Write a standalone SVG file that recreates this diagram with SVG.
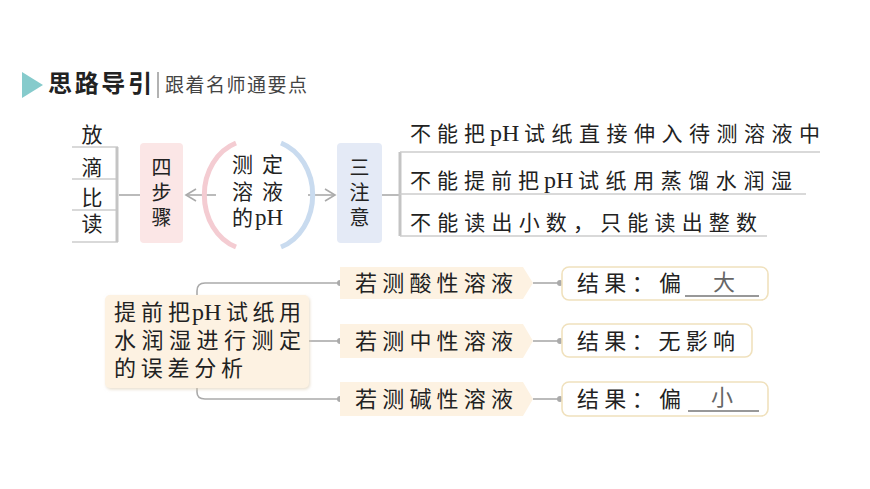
<svg xmlns="http://www.w3.org/2000/svg" width="870" height="489" viewBox="0 0 870 489">
<defs>
<style>
.t{font-family:'Liberation Serif','Noto Sans CJK SC',serif;fill:#222;}
.c20{font-size:20px;}
.c21{font-size:21px;}
.c22{font-size:22px;}
.ph{font-family:'Liberation Serif',serif;fill:#222;}
.ln{stroke:#aaa;stroke-width:1.6;fill:none;}
.ul{stroke:#ccc;stroke-width:1.3;fill:none;}
.dot{fill:#aaa;}
.cream{fill:#fdf2e2;}
.res{fill:#fff;stroke:#f0e1bd;stroke-width:1.6;}
</style>
<filter id="sh" x="-10%" y="-10%" width="120%" height="130%">
<feDropShadow dx="1" dy="1.5" stdDeviation="1.5" flood-color="#d9c9ad" flood-opacity="0.6"/>
</filter>
</defs>
<rect width="870" height="489" fill="#fff"/>

<g id="header">
<polygon points="22,72 43,85 22,98" fill="#86cbcc"/>
<text class="t" x="48" y="92" font-size="24" font-weight="bold" textLength="104">思路导引</text>
<line x1="158" y1="72" x2="158" y2="98" stroke="#999" stroke-width="1.5"/>
<text class="t" x="165" y="92" font-size="19" style="fill:#444" textLength="142">跟着名师通要点</text>
</g>

<g id="connectors">
<line class="ul" x1="72" y1="147" x2="118" y2="147"/>
<line class="ul" x1="72" y1="179" x2="118" y2="179"/>
<line class="ul" x1="72" y1="210" x2="118" y2="210"/>
<line class="ul" x1="72" y1="242" x2="118" y2="242"/>
<line x1="117" y1="147" x2="117" y2="242" stroke="#c4c4c4" stroke-width="3"/>
<line class="ln" x1="119" y1="195" x2="140" y2="195"/>
<line class="ln" x1="186" y1="195" x2="216" y2="195"/>
<polyline class="ln" points="196,189 186,195 196,201"/>
<line class="ln" x1="308" y1="195" x2="335" y2="195"/>
<polyline class="ln" points="325,189 335,195 325,201"/>
<line class="ln" x1="382" y1="195" x2="400" y2="195"/>
<line x1="400" y1="152" x2="400" y2="236" stroke="#c4c4c4" stroke-width="3"/>
<line class="ul" x1="400" y1="152" x2="820" y2="152"/>
<line class="ul" x1="400" y1="194" x2="806" y2="194"/>
<line class="ul" x1="400" y1="236" x2="767" y2="236"/>

<path class="ln" d="M197,295 V291 Q197,283 205,283 H340"/>
<line class="ln" x1="309" y1="341" x2="340" y2="341"/>
<path class="ln" d="M197,388 V392 Q197,399 205,399 H340"/>
<circle class="dot" cx="340" cy="283" r="3"/>
<circle class="dot" cx="340" cy="341" r="3"/>
<circle class="dot" cx="340" cy="399" r="3"/>
<line class="ln" x1="533" y1="283" x2="560" y2="283"/>
<line class="ln" x1="533" y1="341" x2="560" y2="341"/>
<line class="ln" x1="533" y1="399" x2="560" y2="399"/>
<circle class="dot" cx="560" cy="283" r="3"/>
<circle class="dot" cx="560" cy="341" r="3"/>
<circle class="dot" cx="560" cy="399" r="3"/>
</g>

<g id="list">
<text class="t c21" x="92" y="142" text-anchor="middle">放</text>
<text class="t c21" x="92" y="175" text-anchor="middle">滴</text>
<text class="t c21" x="92" y="205" text-anchor="middle">比</text>
<text class="t c21" x="92" y="231" text-anchor="middle">读</text>
</g>

<g id="four-steps">
<rect x="140" y="143" width="43" height="100" rx="4" fill="#fbe6e6"/>
<text class="t c20" x="161.5" y="175" text-anchor="middle">四</text>
<text class="t c20" x="161.5" y="200" text-anchor="middle">步</text>
<text class="t c20" x="161.5" y="225" text-anchor="middle">骤</text>
</g>

<g id="measure-ph">
<path d="M236,143 A47,55 0 0 0 236,247" fill="none" stroke="#f4ccd2" stroke-width="5"/>
<path d="M281,143 A47,55 0 0 1 281,247" fill="none" stroke="#c9dbef" stroke-width="5"/>
<text class="t c21" x="232" y="172">测</text>
<text class="t c21" x="262" y="172">定</text>
<text class="t c21" x="232" y="199">溶</text>
<text class="t c21" x="262" y="199">液</text>
<text class="t c21" x="232" y="225">的</text>
<text class="ph" x="255" y="225" font-size="23">pH</text>
</g>

<g id="three-notes">
<rect x="337" y="143" width="45" height="100" rx="4" fill="#e4eaf6"/>
<text class="t c20" x="359.5" y="175" text-anchor="middle">三</text>
<text class="t c20" x="359.5" y="200" text-anchor="middle">注</text>
<text class="t c20" x="359.5" y="225" text-anchor="middle">意</text>
</g>

<g id="note1">
<text class="t c21" x="410" y="141" textLength="75" lengthAdjust="spacing">不能把</text>
<text class="ph" x="490" y="141" font-size="24">pH</text>
<text class="t c21" x="524" y="141" textLength="296" lengthAdjust="spacing">试纸直接伸入待测溶液中</text>
</g>
<g id="note2">
<text class="t c21" x="410" y="188" textLength="129" lengthAdjust="spacing">不能提前把</text>
<text class="ph" x="544" y="188" font-size="24">pH</text>
<text class="t c21" x="578" y="188" textLength="214" lengthAdjust="spacing">试纸用蒸馏水润湿</text>
</g>
<g id="note3">
<text class="t c21" x="410" y="230" textLength="347" lengthAdjust="spacing">不能读出小数，只能读出整数</text>
</g>

<g id="error-analysis">
<rect class="cream" x="105" y="295" width="204" height="93" rx="5" filter="url(#sh)"/>
<text class="t c22" x="114" y="320" textLength="76" lengthAdjust="spacing">提前把</text>
<text class="ph" x="192" y="320" font-size="24">pH</text>
<text class="t c22" x="226" y="320" textLength="75" lengthAdjust="spacing">试纸用</text>
<text class="t c22" x="114" y="348" textLength="187" lengthAdjust="spacing">水润湿进行测定</text>
<text class="t c22" x="114" y="376" textLength="129" lengthAdjust="spacing">的误差分析</text>
</g>

<g id="acid">
<polygon class="cream" points="340,267 523,267 533,283 523,299 340,299"/>
<text class="t c22" x="355" y="291" textLength="158" lengthAdjust="spacing">若测酸性溶液</text>
</g>
<g id="neutral">
<polygon class="cream" points="340,324 523,324 533,341 523,358 340,358"/>
<text class="t c22" x="355" y="349" textLength="158" lengthAdjust="spacing">若测中性溶液</text>
</g>
<g id="base">
<polygon class="cream" points="340,382 523,382 533,399 523,416 340,416"/>
<text class="t c22" x="355" y="407" textLength="158" lengthAdjust="spacing">若测碱性溶液</text>
</g>

<g id="result-acid">
<rect class="res" x="562" y="267" width="206" height="33" rx="7"/>
<text class="t c22" x="577" y="291" textLength="104" lengthAdjust="spacing">结果：偏</text>
<line x1="685" y1="296" x2="759" y2="296" stroke="#333" stroke-width="1.2"/>
<text class="t c22" x="724" y="290" text-anchor="middle" style="fill:#666">大</text>
</g>
<g id="result-neutral">
<rect class="res" x="562" y="324" width="190" height="33" rx="7"/>
<text class="t c22" x="577" y="349" textLength="158" lengthAdjust="spacing">结果：无影响</text>
</g>
<g id="result-base">
<rect class="res" x="562" y="382" width="206" height="34" rx="7"/>
<text class="t c22" x="577" y="407" textLength="104" lengthAdjust="spacing">结果：偏</text>
<line x1="688" y1="411" x2="759" y2="411" stroke="#333" stroke-width="1.2"/>
<text class="t c22" x="722" y="405" text-anchor="middle" style="fill:#666">小</text>
</g>
</svg>
